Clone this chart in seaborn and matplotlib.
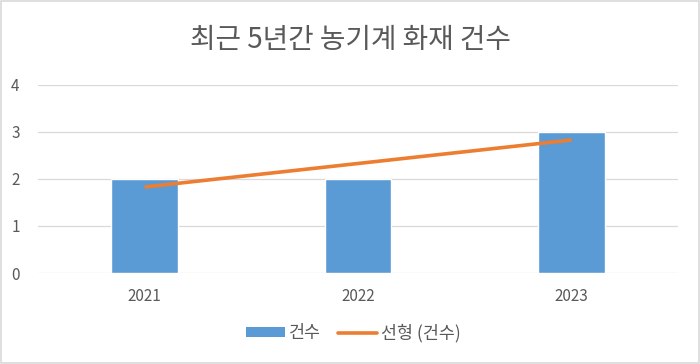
import numpy as np
import pandas as pd
import seaborn as sns
import matplotlib.pyplot as plt
from matplotlib.patches import Rectangle, Patch
from matplotlib.lines import Line2D

years = ['2021', '2022', '2023']
counts = [2, 2, 3]
trend = [1.83, 2.33, 2.83]  # 선형 추세선 (읽은 값)

bar_color = '#5B9BD5'
line_color = '#ED7D31'
text_color = '#595959'
grid_color = '#D9D9D9'

sns.set_style('white')
plt.rcParams['font.family'] = ['Noto Sans CJK KR', 'DejaVu Sans']

dados = pd.DataFrame({'연도': years, '건수': counts})

fig = plt.figure(figsize=(7, 3.64), dpi=100)
ax = fig.add_axes([0.054, 0.25, 0.915, 0.5165])

sns.barplot(data=dados, x='연도', y='건수', color=bar_color, width=0.31,
            saturation=1, ax=ax)
ax.plot(np.arange(len(years)), trend, color=line_color, lw=2.6,
        solid_capstyle='butt')

ax.set_xlim(-0.5, len(years) - 0.5)
ax.set_ylim(0, 4)
ax.set_yticks([0, 1, 2, 3, 4])
ax.set_xlabel('')
ax.set_ylabel('')
ax.grid(axis='y', color=grid_color, lw=0.9)
ax.set_axisbelow(True)
for s in ax.spines.values():
    s.set_visible(False)
ax.tick_params(axis='both', length=0, labelsize=11, labelcolor=text_color)
ax.tick_params(axis='y', pad=13)
ax.tick_params(axis='x', pad=11)

fig.text(0.5, 0.89, '최근 5년간 농기계 화재 건수', ha='center', va='center',
         fontsize=20, color=text_color)

handles = [Patch(facecolor=bar_color, edgecolor='none'),
           Line2D([0], [0], color=line_color, lw=2.6)]
fig.legend(handles, ['건수', '선형 (건수)'], loc='center',
           bbox_to_anchor=(0.505, 0.085), ncol=2, frameon=False,
           fontsize=12.5, labelcolor=text_color, handlelength=2.2,
           handleheight=0.5, columnspacing=1.0, handletextpad=0.25)

fig.patches.append(Rectangle((0.002, 0.003), 0.996, 0.994,
                             transform=fig.transFigure, fill=False,
                             edgecolor=grid_color, lw=1.2))

fig.savefig('out.png', dpi=100)
